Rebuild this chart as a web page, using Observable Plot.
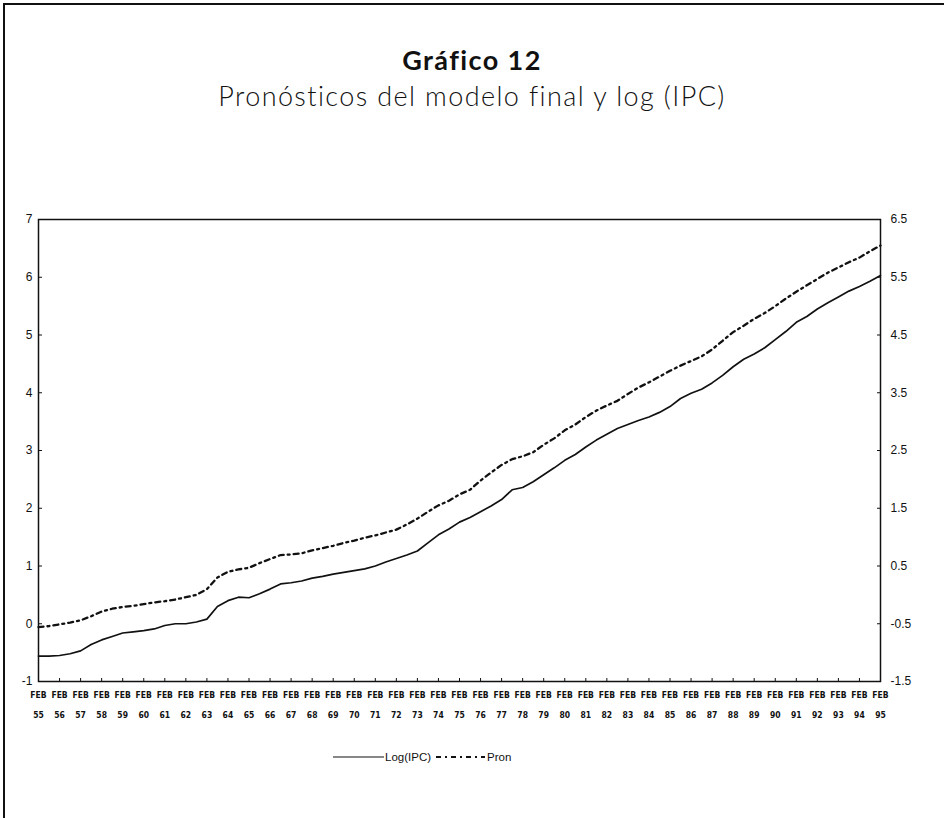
<!DOCTYPE html>
<html>
<head>
<meta charset="utf-8">
<script src="https://cdn.jsdelivr.net/npm/d3@7"></script>
<script src="https://cdn.jsdelivr.net/npm/@observablehq/plot@0.6"></script>
<style>
  body { margin: 0; background: #fff; }
  #page { position: relative; width: 944px; height: 818px; overflow: hidden; font-family: "Liberation Sans", Arial, sans-serif; color: #111; }
  #border { position: absolute; left: 3px; top: 3px; width: 980px; height: 900px; border-left: 2px solid #111; border-top: 2px solid #111; }
  #title { position: absolute; left: 0; width: 944px; top: 45px; text-align: center; font-family: Lato, "Open Sans", sans-serif; font-weight: bold; font-size: 27px; letter-spacing: 1.4px; line-height: 30px; }
  #subtitle { position: absolute; left: 0; width: 944px; top: 80px; text-align: center; font-family: Lato, "Open Sans", sans-serif; font-weight: 300; font-size: 27px; letter-spacing: 1.4px; line-height: 32px; }
  #chart { position: absolute; left: 0; top: 180px; }
  #legend { position: absolute; top: 749px; left: 333px; display: flex; align-items: center; font-size: 11.5px; height: 16px; }
  #legend svg { display: block; }
</style>
</head>
<body>
<div id="page">
  <div id="border"></div>
  <div id="title">Gráfico 12</div>
  <div id="subtitle">Pronósticos del modelo final y log (IPC)</div>
  <div id="chart"></div>
  <div id="legend"></div>
</div>
<script>
// Periods (February of each year and mid-year), decimal years
const periods = [
  1955, 1955.5, 1956, 1956.5, 1957, 1957.5, 1958, 1958.5, 1959, 1959.5,
  1960, 1960.5, 1961, 1961.5, 1962, 1962.5, 1963, 1963.5, 1964, 1964.5,
  1965, 1965.5, 1966, 1966.5, 1967, 1967.5, 1968, 1968.5, 1969, 1969.5,
  1970, 1970.5, 1971, 1971.5, 1972, 1972.5, 1973, 1973.5, 1974, 1974.5,
  1975, 1975.5, 1976, 1976.5, 1977, 1977.5, 1978, 1978.5, 1979, 1979.5,
  1980, 1980.5, 1981, 1981.5, 1982, 1982.5, 1983, 1983.5, 1984, 1984.5,
  1985, 1985.5, 1986, 1986.5, 1987, 1987.5, 1988, 1988.5, 1989, 1989.5,
  1990, 1990.5, 1991, 1991.5, 1992, 1992.5, 1993, 1993.5, 1994, 1994.5,
  1995
];
// Log(IPC) — left axis
const logIPC = [
  -0.56, -0.56, -0.55, -0.52, -0.47, -0.36, -0.28, -0.22, -0.16, -0.14,
  -0.12, -0.09, -0.03, 0.00, 0.00, 0.03, 0.08, 0.30, 0.40, 0.46,
  0.45, 0.52, 0.60, 0.69, 0.71, 0.74, 0.79, 0.82, 0.86, 0.89,
  0.92, 0.95, 1.00, 1.07, 1.13, 1.19, 1.26, 1.40, 1.54, 1.64,
  1.76, 1.84, 1.94, 2.04, 2.15, 2.32, 2.36, 2.46, 2.58, 2.70,
  2.83, 2.93, 3.06, 3.18, 3.28, 3.38, 3.45, 3.52, 3.58, 3.66,
  3.76, 3.90, 3.99, 4.06, 4.17, 4.30, 4.45, 4.58, 4.67, 4.78,
  4.92, 5.06, 5.22, 5.32, 5.45, 5.56, 5.66, 5.76, 5.84, 5.93,
  6.03
];
// Pron — right axis
const pron = [
  -0.56, -0.54, -0.51, -0.48, -0.44, -0.37, -0.29, -0.24, -0.21, -0.19,
  -0.16, -0.13, -0.11, -0.08, -0.04, 0.00, 0.10, 0.30, 0.40, 0.44,
  0.47, 0.55, 0.62, 0.69, 0.70, 0.72, 0.77, 0.81, 0.85, 0.90,
  0.94, 0.99, 1.03, 1.08, 1.13, 1.22, 1.32, 1.44, 1.55, 1.63,
  1.74, 1.82, 1.98, 2.12, 2.25, 2.35, 2.40, 2.47, 2.60, 2.71,
  2.85, 2.95, 3.08, 3.19, 3.28, 3.36, 3.48, 3.59, 3.68, 3.78,
  3.88, 3.97, 4.05, 4.13, 4.25, 4.40, 4.55, 4.66, 4.78, 4.88,
  5.00, 5.13, 5.25, 5.36, 5.47, 5.58, 5.67, 5.76, 5.84, 5.95,
  6.05
];
const leftTicks = [-1, 0, 1, 2, 3, 4, 5, 6, 7];
const rightTicks = [-1.5, -0.5, 0.5, 1.5, 2.5, 3.5, 4.5, 5.5, 6.5];
const xTickYears = d3.range(1955, 1996);
const monthLabel = "FEB";
const seriesNames = ["Log(IPC)", "Pron"];

const leftDomain = [-1, 7];
const rightDomain = [-1.5, 6.5];
const r2l = d3.scaleLinear().domain(rightDomain).range(leftDomain);

const data = periods.map((t, i) => ({t, log: logIPC[i], pron: pron[i]}));
const dashPron = "5,4,2,4";

const chart = Plot.plot({
  width: 944,
  height: 560,
  marginLeft: 38,
  marginRight: 64,
  marginTop: 39,
  marginBottom: 59,
  x: {domain: [1955, 1995]},
  y: {domain: leftDomain},
  style: {fontFamily: "'Liberation Sans', Arial, sans-serif", color: "#111", background: "transparent"},
  marks: [
    Plot.frame({stroke: "#111", strokeWidth: 1.5}),
    Plot.axisY(leftTicks, {anchor: "left", tickSize: 4, inset: 4, tickPadding: 6, fontSize: 12, tickFormat: d => String(d), label: null}),
    Plot.axisY(rightTicks.map(r2l), {anchor: "right", tickSize: 4, inset: 4, tickPadding: 10, fontSize: 12, tickFormat: d => r2l.invert(d).toFixed(1), label: null}),
    Plot.axisX(xTickYears, {anchor: "bottom", tickSize: 3, inset: 3, tickPadding: 2, fontSize: 8.5, lineHeight: 2.4, fontWeight: "bold",
      fontFamily: "'Liberation Sans Narrow', 'DejaVu Sans Condensed', sans-serif",
      tickFormat: d => monthLabel + "\n" + String(d).slice(2), label: null}),
    Plot.line(data, {x: "t", y: "log", stroke: "#111", strokeWidth: 1.7}),
    Plot.line(data, {x: "t", y: d => r2l(d.pron), stroke: "#111", strokeWidth: 2.3, strokeDasharray: dashPron})
  ]
});
document.getElementById("chart").appendChild(chart);

const legend = document.getElementById("legend");
legend.innerHTML =
  `<svg width="52" height="10"><line x1="0" x2="51" y1="5" y2="5" stroke="#111" stroke-width="1.2"/></svg>` +
  `<span style="margin-right:5px">${seriesNames[0]}</span>` +
  `<svg width="51" height="10"><line x1="0" x2="49" y1="5" y2="5" stroke="#111" stroke-width="2.2" stroke-dasharray="${dashPron}"/></svg>` +
  `<span>${seriesNames[1]}</span>`;
</script>
</body>
</html>
